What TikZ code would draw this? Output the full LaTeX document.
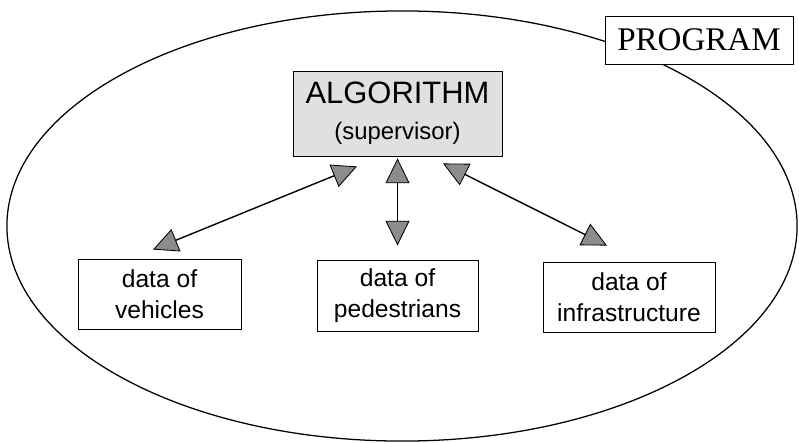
\documentclass[tikz,border=0pt]{standalone}
\usepackage{fontspec}
\setmainfont{Liberation Sans}
\newfontfamily\progfont{Liberation Serif}
\usetikzlibrary{arrows.meta, shapes.geometric}

\definecolor{algogray}{RGB}{224,224,224}
\definecolor{headgray}{RGB}{140,140,140}

\begin{document}
\begin{tikzpicture}[x = 0.025cm, y = -0.025cm, line width = 0.6pt,
                    databox/.style = {rectangle, draw, fill = white, inner sep = 0pt, align = center,
                                      font = \fontsize{17.5pt}{22pt}\selectfont},
                    algobox/.style = {rectangle, draw, fill = algogray, inner sep = 0pt, align = center,
                                      minimum width = 5.225cm, minimum height = 2.125cm,
                                      font = \fontsize{17pt}{25.6pt}\selectfont},
                    link/.style    = {line width = 1pt,
                                      arrows = {Triangle[length = 0.62cm, width = 0.6cm, fill = headgray, line width = 0.6pt]-Triangle[length = 0.62cm, width = 0.6cm, fill = headgray, line width = 0.6pt]}}
                    ]
    \useasboundingbox (0, 0) rectangle (799, 442);

    \node[ellipse, draw, line width = 0.9pt, inner sep = 0pt,
          minimum width = 19.75cm, minimum height = 10.75cm] (program) at (402, 226) {};
    \node[rectangle, draw, fill = white, inner sep = 0pt, minimum width = 4.7cm, minimum height = 1.2cm,
          font = \progfont\fontsize{23.5pt}{26pt}\selectfont] (prog) at (699, 40) {PROGRAM};

    \node[algobox] (algo) at (397.5, 113.5) {{\fontsize{22pt}{25.6pt}\selectfont ALGORITHM}\\(supervisor)};

    \node[databox, minimum width = 4.075cm, minimum height = 1.75cm] (veh) at (159.5, 294) {data of\\vehicles};
    \node[databox, minimum width = 4.025cm, minimum height = 1.775cm] (ped) at (397.5, 295.5) {data of\\pedestrians};
    \node[databox, minimum width = 4.3cm, minimum height = 1.75cm] (inf) at (629, 297) {data of\\infrastructure};

    \draw[link] ([shift = {(-40.5, 10)}]algo.south) -- ([shift = {(-6.5, -9)}]veh.north);
    \draw[link] ([shift = {(0, 2)}]algo.south) -- ([shift = {(0, -14)}]ped.north);
    \draw[link] ([shift = {(45.5, 7)}]algo.south) -- ([shift = {(-22, -16)}]inf.north);
\end{tikzpicture}
\end{document}
